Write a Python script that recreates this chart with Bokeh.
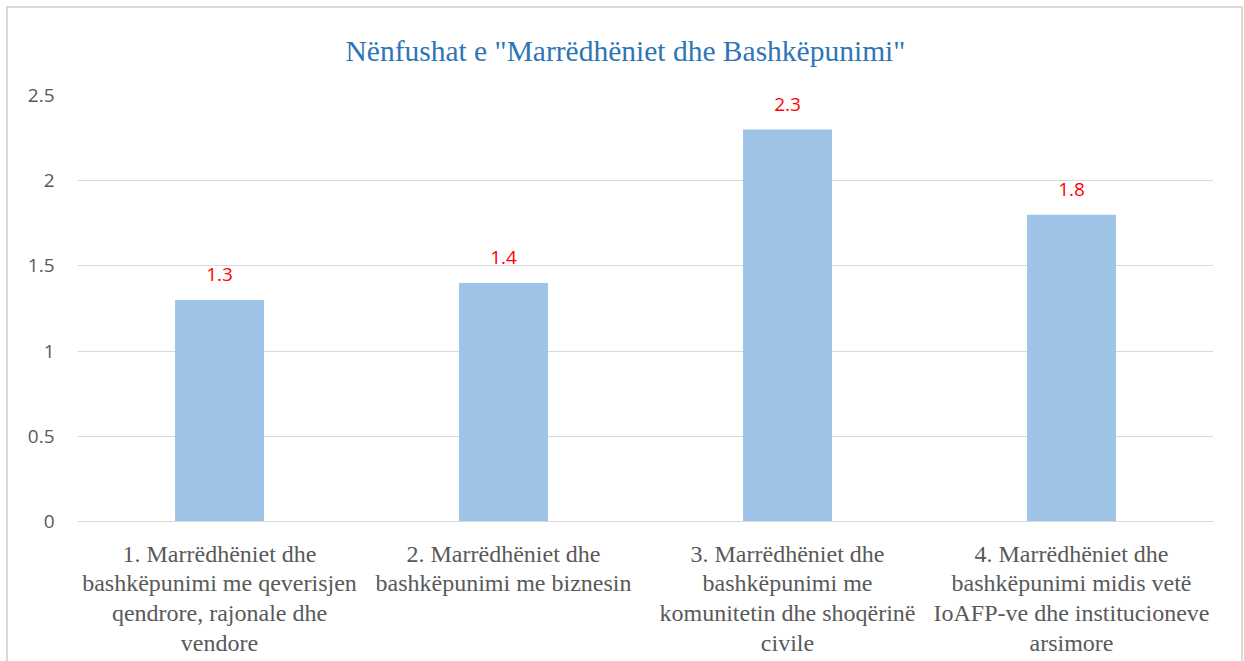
from bokeh.plotting import figure
from bokeh.models import ColumnDataSource, Range1d, FixedTicker, LabelSet, Title
from bokeh.core.properties import value
from bokeh.embed import file_html
from bokeh.resources import INLINE

categories = [
    "1. Marrëdhëniet dhe\nbashkëpunimi me qeverisjen\nqendrore, rajonale dhe\nvendore",
    "2. Marrëdhëniet dhe\nbashkëpunimi me biznesin",
    "3. Marrëdhëniet dhe\nbashkëpunimi me\nkomunitetin dhe shoqërinë\ncivile",
    "4. Marrëdhëniet dhe\nbashkëpunimi midis vetë\nIoAFP-ve dhe institucioneve\narsimore",
]
values = [1.3, 1.4, 2.3, 1.8]
value_labels = ["1.3", "1.4", "2.3", "1.8"]
y_ticks = [0, 0.5, 1, 1.5, 2, 2.5]
title_text = 'Nënfushat e "Marrëdhëniet dhe Bashkëpunimi"'

source = ColumnDataSource(dict(cat=categories, val=values, lab=value_labels))

p = figure(
    x_range=categories,
    y_range=Range1d(0, 2.5),
    width=1244,
    height=661,
    output_backend="svg",
    toolbar_location=None,
    min_border_left=77,
    min_border_right=31,
    min_border_top=95,
    min_border_bottom=140,
)

g = "linear-gradient(#D9D9D9,#D9D9D9)"
p.styles = {
    "background": (
        f"{g} 6px 6px / 2px 700px no-repeat, "
        f"{g} 6px 6px / 1237px 2px no-repeat, "
        f"{g} 1241px 6px / 2px 700px no-repeat, white"
    )
}
p.border_fill_color = None
p.background_fill_color = "white"

p.vbar(x="cat", top="val", width=0.313, source=source,
       fill_color="#9DC3E6", line_color=None)

labels = LabelSet(x="cat", y="val", text="lab", source=source,
                  text_align="center", text_baseline="middle", y_offset=25,
                  text_color="#FF0000", text_font=value("Open Sans"),
                  text_font_size="19px")
p.add_layout(labels)

t = Title(text=title_text, align="left", text_font="Liberation Serif",
          text_font_size="29.5px", text_color="#2E75B6", text_font_style="normal",
          offset=268, standoff=57)
p.add_layout(t, "above")
p.title.visible = False

p.outline_line_color = None
p.xgrid.grid_line_color = None
p.ygrid.grid_line_color = "#D9D9D9"
p.ygrid.grid_line_width = 1

p.yaxis.ticker = FixedTicker(ticks=y_ticks)
p.yaxis.axis_line_color = None
p.yaxis.major_tick_line_color = None
p.yaxis.minor_tick_line_color = None
p.yaxis.major_label_text_font = "Open Sans"
p.yaxis.major_label_text_font_size = "19px"
p.yaxis.major_label_text_color = "#595959"
p.yaxis.major_label_standoff = 17

p.xaxis.axis_line_color = "#D9D9D9"
p.xaxis.major_tick_line_color = None
p.xaxis.minor_tick_line_color = None
p.xaxis.major_label_text_font = "Liberation Serif"
p.xaxis.major_label_text_font_size = "24px"
p.xaxis.major_label_text_line_height = 1.15
p.xaxis.major_label_text_color = "#595959"
p.xaxis.major_label_standoff = 13

open("out.html", "w").write(file_html(p, INLINE))
